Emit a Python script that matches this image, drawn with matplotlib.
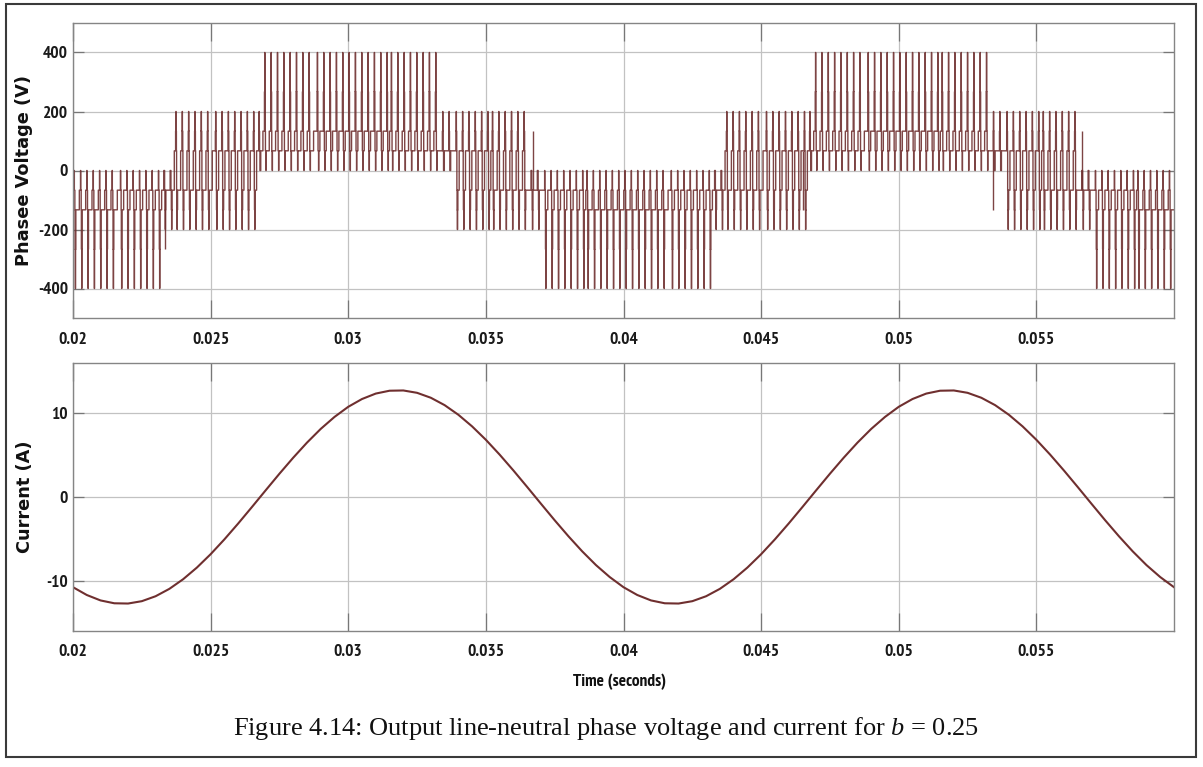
import numpy as np
import matplotlib
matplotlib.use("Agg")
import matplotlib.pyplot as plt
from matplotlib import font_manager
from matplotlib.patches import Rectangle

# ---------------- data ----------------
# Switching region kinds and the voltage levels (V) each one uses
kinds = ["B_in", "B_out", "X_neg", "M_out", "M_in", "X_pos", "T_out", "T_in"]
kind_top = [0, 0, 0, 200, 200, 200, 400, 400]
kind_up_mid = [-66.7, -66.7, 0, 133.3, 133.3, 133.3, 266.7, 266.7]
kind_base_hi = [-66.7, -66.7, -66.7, 66.7, 66.7, 66.7, 133.3, 133.3]
kind_base_lo = [-133.3, -133.3, -66.7, -66.7, -66.7, 66.7, 66.7, 66.7]
kind_dn_mid = [-266.7, -266.7, -133.3, -133.3, -133.3, 0, 66.7, 66.7]
kind_bottom = [-400, -400, -200, -200, -200, 0, 0, 0]
# share of each switching period spent on the upper base level
kind_hi_share = [0.2, 0.65, 0.5, 0.3, 0.7, 0.5, 0.35, 0.8]

# Phase voltage: start time (s) of each region and its kind
region_start = [0.0200, 0.0214, 0.0232, 0.0236, 0.0250, 0.0265, 0.0269, 0.0286,
                0.0314, 0.0332, 0.0336, 0.0350, 0.0365, 0.0369, 0.0386, 0.0414,
                0.0432, 0.0436, 0.0450, 0.0465, 0.0469, 0.0486, 0.0514, 0.0532,
                0.0536, 0.0550, 0.0565, 0.0569, 0.0586]
region_kind = ["B_in", "B_out", "X_neg", "M_out", "M_in", "X_pos", "T_out",
               "T_in", "T_out", "X_pos", "M_in", "M_out", "X_neg", "B_out",
               "B_in", "B_out", "X_neg", "M_out", "M_in", "X_pos", "T_out",
               "T_in", "T_out", "X_pos", "M_in", "M_out", "X_neg", "B_out",
               "B_in"]
switch_period = 0.00023  # s

# Isolated transition pulses (time s, level V)
pulse_t = [0.02334, 0.03670, 0.04651, 0.05341, 0.05667]
pulse_v = [-266.7, 133.3, -133.3, -133.3, 133.3]

# Load current (A), sampled every 0.5 ms from 0.02 s to 0.06 s
current_a = [-10.77, -11.70, -12.35, -12.69, -12.72, -12.44, -11.85, -10.97,
             -9.82, -8.43, -6.83, -5.06, -3.17, -1.20, 0.80, 2.78, 4.69, 6.49,
             8.13, 9.56, 10.77, 11.70, 12.35, 12.69, 12.72, 12.44, 11.85,
             10.97, 9.82, 8.43, 6.83, 5.06, 3.17, 1.20, -0.80, -2.78, -4.69,
             -6.49, -8.13, -9.56, -10.77, -11.70, -12.35, -12.69, -12.72,
             -12.44, -11.85, -10.97, -9.82, -8.43, -6.83, -5.06, -3.17, -1.20,
             0.80, 2.78, 4.69, 6.49, 8.13, 9.56, 10.77, 11.70, 12.35, 12.69,
             12.72, 12.44, 11.85, 10.97, 9.82, 8.43, 6.83, 5.06, 3.17, 1.20,
             -0.80, -2.78, -4.69, -6.49, -8.13, -9.56, -10.77]
t_current = np.linspace(0.02, 0.06, len(current_a))

x_ticks = [0.02, 0.025, 0.03, 0.035, 0.04, 0.045, 0.05, 0.055]
x_ticklabels = ["0.02", "0.025", "0.03", "0.035", "0.04", "0.045", "0.05", "0.055"]
v_ticks = [-400, -200, 0, 200, 400]
i_ticks = [-10, 0, 10]

# ---------------- fonts ----------------
def narrow_bold():
    """Prefer a narrow bold sans for the numeric labels."""
    for key in ("Narrow", "Condensed"):
        for f in font_manager.fontManager.ttflist:
            if key.lower() in f.fname.lower() and f.weight in (700, "bold") \
                    and f.style == "normal" and "sans" in f.fname.lower() \
                    and "mono" not in f.fname.lower():
                return font_manager.FontProperties(fname=f.fname)
    return font_manager.FontProperties(family="Liberation Sans", weight="bold")

plt.rcParams["mathtext.fontset"] = "custom"
plt.rcParams["mathtext.rm"] = "Liberation Serif"
plt.rcParams["mathtext.it"] = "Liberation Serif:italic"

# ---------------- build the switched voltage trace ----------------
level_table = {k: (kind_top[j], kind_up_mid[j], kind_base_hi[j], kind_base_lo[j],
                   kind_dn_mid[j], kind_bottom[j], kind_hi_share[j])
               for j, k in enumerate(kinds)}


def region_levels(t):
    i = int(np.searchsorted(region_start, t, side="right") - 1)
    return level_table[region_kind[i]]


t_pts, v_pts = [], []
w_mid, w_pk, w_gap = 0.05, 0.025, 0.03
n_per = int(round((0.06 - 0.02) / switch_period)) + 1
for k in range(n_per):
    t0 = 0.02 + k * switch_period
    if t0 >= 0.06:
        break
    top, up_mid, b_hi, b_lo, dn_mid, bot, share = region_levels(t0)
    rest = 1.0 - 4 * w_mid - 2 * w_pk - 2 * w_gap
    a = rest * share
    b = rest - a
    seq = [(b_hi, a), (up_mid, w_mid), (top, w_pk), (up_mid, w_mid),
           (b_hi, w_gap), (b_lo, w_gap), (dn_mid, w_mid), (bot, w_pk),
           (dn_mid, w_mid), (b_lo, b)]
    tt = t0
    for lvl, frac in seq:
        t_pts.append(tt)
        v_pts.append(lvl)
        tt += frac * switch_period
t_pts.append(0.06)
v_pts.append(v_pts[-1])

# each isolated pulse leaves from the nearest base level of its region
pulse_base = []
for tp, vp in zip(pulse_t, pulse_v):
    lv = region_levels(tp)
    pulse_base.append(lv[2] if vp < 0 else lv[3])

# ---------------- figure ----------------
W, H = 1203, 767
fig = plt.figure(figsize=(W / 100, H / 100), dpi=100)
fig.patch.set_facecolor("white")


def fx(px):
    return px / W


def fy(px):
    return 1 - px / H


ax1 = fig.add_axes([fx(73), fy(318), fx(1174) - fx(73), fy(23) - fy(318)])
ax2 = fig.add_axes([fx(73), fy(631), fx(1174) - fx(73), fy(363) - fy(631)])

line_color = "#6f2f2f"
ax1.plot(t_pts, v_pts, drawstyle="steps-post", color=line_color, lw=1.0,
         alpha=0.9)
ax1.vlines(pulse_t, pulse_base, pulse_v, color=line_color, lw=1.0, alpha=0.9)
ax2.plot(t_current, current_a, color=line_color, lw=1.5)

tick_fp = narrow_bold()
tick_fp.set_size(12.5)
for ax in (ax1, ax2):
    ax.set_xlim(0.02, 0.06)
    ax.set_xticks(x_ticks)
    ax.set_xticklabels(x_ticklabels, color="#1a1a1a")
    ax.grid(True, color="#c2c2c2", lw=0.9)
    ax.set_axisbelow(True)
    for s in ax.spines.values():
        s.set_color("#858585")
        s.set_linewidth(1.0)
    ax.tick_params(axis="x", direction="in", length=13, width=0.9,
                   color="#777777", top=True, bottom=True)
    ax.tick_params(axis="y", direction="in", length=8, width=0.9,
                   color="#777777", left=True, right=True, pad=3.5)

ax1.set_ylim(-500, 500)
ax1.set_yticks(v_ticks)
ax1.set_yticklabels([str(v) for v in v_ticks], color="#1a1a1a")
ax1.tick_params(axis="x", pad=10)
ax2.set_ylim(-16, 16)
ax2.set_yticks(i_ticks)
ax2.set_yticklabels([str(v) for v in i_ticks], color="#1a1a1a")
ax2.tick_params(axis="x", pad=9)
for ax in (ax1, ax2):
    for lab in ax.get_xticklabels() + ax.get_yticklabels():
        lab.set_fontproperties(tick_fp)

label_font = dict(family="DejaVu Sans", weight="bold", size=12.8)
ax1.set_ylabel("Phasee Voltage (V)", fontdict=label_font, color="#111111")
ax1.yaxis.set_label_coords((33 - 73) / 1101, 0.5)
ax2.set_ylabel("Current (A)", fontdict=label_font, color="#111111")
ax2.yaxis.set_label_coords((34 - 73) / 1101, 0.5)

fig.text(fx(620), fy(682), "Time (seconds)", ha="center", va="center",
         fontproperties=tick_fp, color="#111111")

fig.text(fx(606), fy(728),
         r"Figure 4.14: Output line-neutral phase voltage and current for $b$ = 0.25",
         ha="center", va="center", family="Liberation Serif", size=19,
         color="#111111")

fig.add_artist(Rectangle((fx(6), fy(757)), fx(1196) - fx(6), fy(4) - fy(757),
                         transform=fig.transFigure, fill=False,
                         edgecolor="#3a3a3a", lw=1.5))

fig.savefig("out.png", dpi=100, facecolor="white")
